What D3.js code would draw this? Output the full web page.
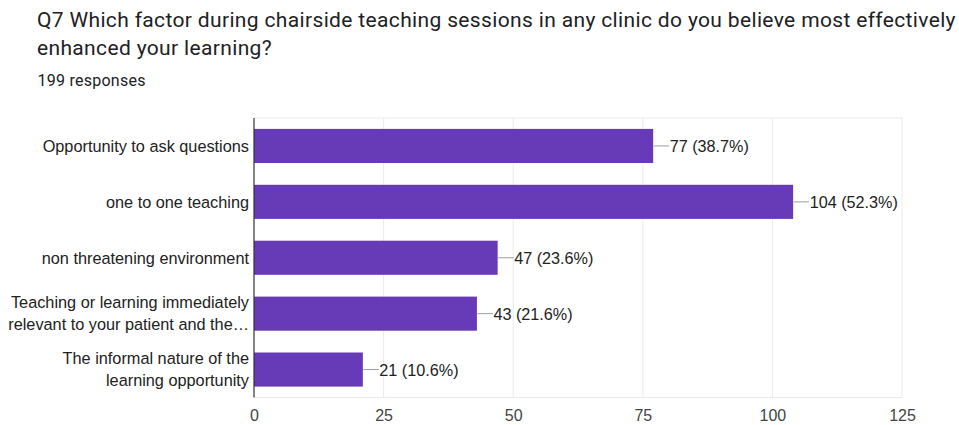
<!DOCTYPE html>
<html>
<head>
<meta charset="utf-8">
<script src="https://cdn.jsdelivr.net/npm/d3@7"></script>
<style>
  html, body { margin: 0; padding: 0; background: #fff; }
  svg { display: block; font-family: "Liberation Sans", Arial, sans-serif; }
  .head { font-family: Roboto, "Noto Sans", Arial, sans-serif; }
</style>
</head>
<body>
<svg id="chart" width="959" height="425"></svg>
<script>
// Survey answers, in display order
const categories = [
  ["Opportunity to ask questions"],
  ["one to one teaching"],
  ["non threatening environment"],
  ["Teaching or learning immediately", "relevant to your patient and the\u2026"],
  ["The informal nature of the", "learning opportunity"]
];
const counts = [77, 104, 47, 43, 21];
const percents = ["38.7%", "52.3%", "23.6%", "21.6%", "10.6%"];
const xTicks = [0, 25, 50, 75, 100, 125];
const titleLines = [
  "Q7 Which factor during chairside teaching sessions in any clinic do you believe most effectively",
  "enhanced your learning?"
];
const subtitle = "199 responses";

const svg = d3.select("#chart");
const plotLeft = 254, plotRight = 902, plotTop = 118, plotBottom = 397.5;

const x = d3.scaleLinear().domain([0, 125]).range([plotLeft, plotRight]);
const y = d3.scaleBand().domain(d3.range(counts.length)).range([plotTop, plotBottom])
  .paddingInner(0.39).paddingOuter(0.195);

// Title and response count
svg.append("g").attr("class", "head").selectAll("text").data(titleLines).join("text")
  .attr("x", 37).attr("y", (d, i) => 27 + i * 28)
  .attr("font-size", 21).attr("letter-spacing", 0.35).attr("fill", "#202124")
  .text(d => d);
svg.append("text").attr("class", "head").attr("x", 37.5).attr("y", 85.5)
  .attr("font-size", 16).attr("letter-spacing", 0.25).attr("fill", "#202124").text(subtitle);

// Vertical gridlines and the top/bottom frame lines
const grid = svg.append("g");
grid.selectAll("line.v").data(xTicks.slice(1)).join("line")
  .attr("class", "v")
  .attr("x1", d => x(d)).attr("x2", d => x(d))
  .attr("y1", plotTop).attr("y2", plotBottom)
  .attr("stroke", "#ebebeb").attr("stroke-width", 1);
grid.append("line").attr("x1", plotLeft).attr("x2", plotRight).attr("y1", plotTop).attr("y2", plotTop)
  .attr("stroke", "#ebebeb");
grid.append("line").attr("x1", plotLeft).attr("x2", plotRight).attr("y1", plotBottom).attr("y2", plotBottom)
  .attr("stroke", "#ebebeb");

// Bars
svg.append("g").selectAll("rect").data(counts).join("rect")
  .attr("x", x(0)).attr("y", (d, i) => y(i))
  .attr("width", d => x(d) - x(0)).attr("height", y.bandwidth())
  .attr("fill", "#673ab7");

// Zero axis line
svg.append("line").attr("x1", x(0)).attr("x2", x(0)).attr("y1", plotTop).attr("y2", plotBottom)
  .attr("stroke", "#333").attr("stroke-width", 1.2);

// Value annotations with leader lines
const ann = svg.append("g").selectAll("g").data(counts).join("g")
  .attr("transform", (d, i) => `translate(${x(d)},${y(i) + y.bandwidth() / 2})`);
ann.append("line").attr("x1", 0.5).attr("x2", 16).attr("y1", 0).attr("y2", 0)
  .attr("stroke", "#9e9e9e").attr("stroke-width", 1);
ann.append("text").attr("x", 16.5).attr("y", 6.5)
  .attr("font-size", 16.2).attr("fill", "#222")
  .text((d, i) => `${d} (${percents[i]})`);

// Category labels, right-aligned, wrapped onto two lines where needed
const cat = svg.append("g").selectAll("text").data(categories).join("text")
  .attr("text-anchor", "end").attr("font-size", 16.3).attr("fill", "#222")
  .attr("transform", (d, i) => `translate(${plotLeft - 5},${y(i) + y.bandwidth() / 2})`);
cat.selectAll("tspan").data(d => d.map((t, j) => ({ t, j, n: d.length }))).join("tspan")
  .attr("x", 0)
  .attr("y", d => (d.j - (d.n - 1) / 2) * 22 + (d.n > 1 ? 5.5 : 6.5))
  .text(d => d.t);

// X axis tick labels
const xAxis = d3.axisBottom(x).tickValues(xTicks).tickSize(0).tickPadding(0);
const ax = svg.append("g").attr("transform", "translate(0,421)").call(xAxis);
ax.select(".domain").remove();
ax.selectAll("text").attr("y", 0).attr("dy", 0)
  .attr("font-size", 16).attr("fill", "#444")
  .attr("font-family", "'Liberation Sans', Arial, sans-serif");
</script>
</body>
</html>
